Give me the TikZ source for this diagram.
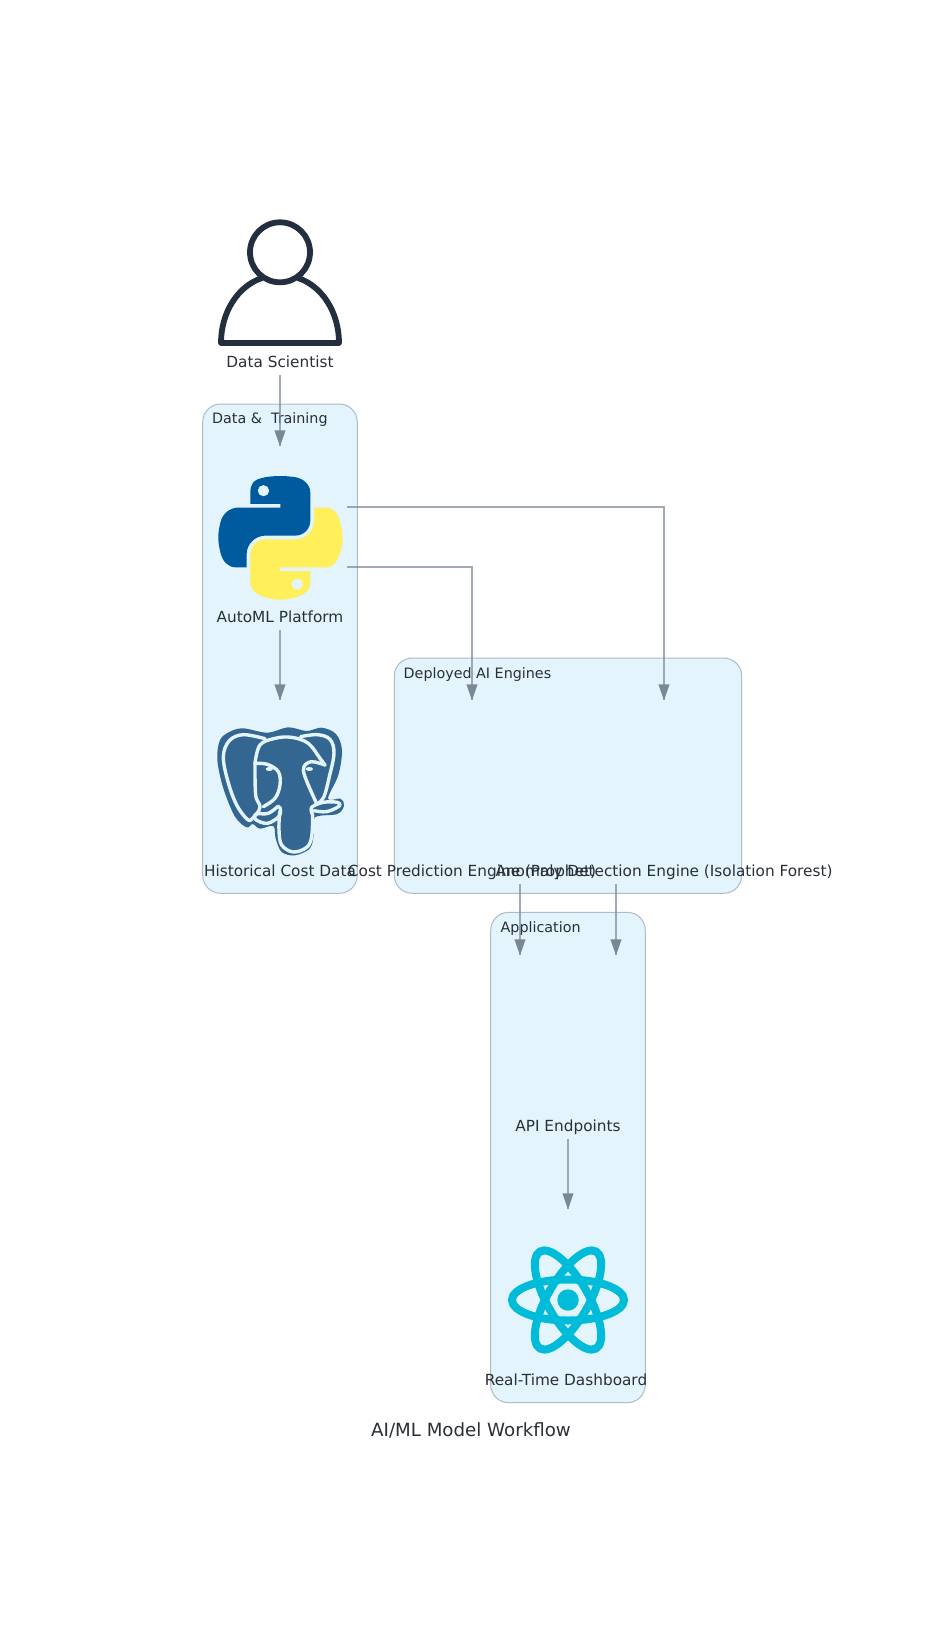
\documentclass[tikz,border=0pt]{standalone}
\usepackage{fontspec}
\setmainfont{DejaVu Sans}
\usepackage{tikz}
\usetikzlibrary{calc, positioning, svg.path}
\definecolor{groupfill}{HTML}{E3F4FD}
\definecolor{groupline}{HTML}{AEBBC8}
\definecolor{edgeline}{HTML}{7B8894}
\definecolor{inktext}{HTML}{2A2F36}
\definecolor{personink}{HTML}{232F3E}
\definecolor{pyblue}{HTML}{005A9E}
\definecolor{pyyellow}{HTML}{FFEF5A}
\definecolor{pgblue}{HTML}{336791}
\definecolor{reactcyan}{HTML}{00BCD8}
\tikzset{
  group/.style={draw=groupline, fill=groupfill, rounded corners=18pt, line width=1pt},
  grouptitle/.style={anchor=west, inner sep=0pt, text=inktext, font=\fontsize{14.3}{16}\selectfont},
  icon/.style={minimum size=133pt, inner sep=0pt},
  caption/.style={inner sep=0pt, text height=11pt, text depth=6.5pt, text=inktext, font=\fontsize{15.3}{16}\selectfont},
  edge/.style={draw=edgeline, line width=1.5pt, draw opacity=.7},
  tip/.style={fill=edgeline},
  pgline/.style={draw=groupfill, line width=3.4pt, line cap=round, line join=round}
}
% arrow with the head drawn apart, the line stays pale and the head solid
\newcommand{\tiphead}[1]{\fill[tip] (#1) -- ++(-5.6,-16) -- ++(11.2,0) -- cycle;}

\begin{document}
\begin{tikzpicture}[x=1pt, y=-1pt]
  \useasboundingbox (0,0) rectangle (944,1642);
  % groups
  \draw[group] (202.7,404) rectangle (357.3,893.3);
  \draw[group] (394.3,658) rectangle (741.7,893.3);
  \draw[group] (490.7,912.3) rectangle (645.3,1402.7);
  \node[grouptitle] (traintitle) at (212,420) {Data \& \ Training};
  \node[grouptitle] (enginetitle) at (403.5,675) {Deployed AI Engines};
  \node[grouptitle] (apptitle) at (500.5,928.5) {Application};

  % nodes, each icon box with its caption below
  \node[icon] (scientist) at (280,282) {};
  \node[caption, below=8pt of scientist] (scientistcap) {Data Scientist};
  \node[icon] (automl) at (280,537) {};
  \node[caption, below=8pt of automl] (automlcap) {AutoML Platform};
  \node[icon] (history) at (280,791) {};
  \node[caption, below=8pt of history] (historycap) {Historical Cost Data};
  \node[icon] (prophet) at (472,791) {};
  \node[caption, below=8pt of prophet] (prophetcap) {Cost Prediction Engine (Prophet)};
  \node[icon] (anomaly) at (664,791) {};
  \node[caption, below=8pt of anomaly] (anomalycap) {Anomaly Detection Engine (Isolation Forest)};
  \node[icon] (api) at (568,1046) {};
  \node[caption, below=8pt of api] (apicap) {API Endpoints};
  \node[icon] (board) at (568,1300) {};
  \node[caption, below=8pt of board, xshift=-2pt] (boardcap) {Real-Time Dashboard};
  \node[inner sep=0pt, text=inktext, font=\fontsize{18.2}{20}\selectfont] (plottitle) at (471,1430) {AI/ML Model Workflow};

  % where the arrows stop, a little above each icon box
  \coordinate (automlin) at ([yshift=24pt]automl.north);
  \coordinate (historyin) at ([yshift=24pt]history.north);
  \coordinate (prophetin) at ([yshift=24pt]prophet.north);
  \coordinate (anomalyin) at ([yshift=24pt]anomaly.north);
  \coordinate (apiinl) at ([xshift=-48pt, yshift=24pt]api.north);
  \coordinate (apiinr) at ([xshift=48pt, yshift=24pt]api.north);
  \coordinate (boardin) at ([yshift=24pt]board.north);

  % person
  \draw[personink, line width=5.8pt] (280,252.3) circle (30);
  \draw[personink, line width=5.8pt, line join=round]
    (262,278) .. controls (238,286) and (221,312) .. (221,343) -- (339,343)
    .. controls (339,312) and (322,286) .. (298,278);

  % python
  \begin{scope}[shift={(218.3,476)}, x=1pt, y=1pt, xscale=1.118, yscale=-1.1]
    \fill[pyblue] svg {M 54.918785,0 C 50.335132,0.02221727 45.957846,0.41313697 42.106285,1.0946693 30.760069,3.0991731 28.700036,7.2947714 28.700035,15.032169 v 10.21875 h 26.8125 v 3.40625 h -26.8125 -10.0625 c -7.792459,0 -14.6157588,4.683717 -16.7499998,13.59375 -2.46181998,10.212966 -2.57101508,16.586023 0,27.25 1.9059283,7.937852 6.4575432,13.593748 14.2499998,13.59375 h 9.21875 v -12.25 c 0,-8.849902 7.657144,-16.65625 16.75,-16.65625 h 26.78125 c 7.454951,0 13.406253,-6.138164 13.40625,-13.625 v -25.53125 c 0,-7.2663386 -6.12998,-12.7247771 -13.40625,-13.9374997 C 64.281548,0.32794397 59.502438,-0.02037903 54.918785,0 Z};
    \fill[groupfill] (40.42,13.34) circle (5.05);
    \fill[pyyellow] svg {M 85.637535,28.657169 v 11.90625 c 0,9.230755 -7.825895,16.999999 -16.75,17 h -26.78125 c -7.335833,0 -13.406249,6.278483 -13.40625,13.625 v 25.531247 c 0,7.266344 6.318588,11.540324 13.40625,13.625004 8.487331,2.49561 16.626237,2.94663 26.78125,0 6.750155,-1.95439 13.406253,-5.88761 13.40625,-13.625004 V 86.500919 h -26.78125 v -3.40625 h 26.78125 13.406254 c 7.792461,0 10.696251,-5.435408 13.406241,-13.59375 2.79933,-8.398886 2.68022,-16.475776 0,-27.25 -1.92578,-7.757441 -5.60387,-13.59375 -13.406241,-13.59375 Z};
    \fill[groupfill] (70.57,98.4) circle (5.05);
  \end{scope}

  % elephant, in crop units of three to the pixel
  \begin{scope}[shift={(210,720)}, x=.3333pt, y=-.3333pt]
    \fill[pgblue] plot[smooth cycle, tension=.55] coordinates {(100,25) (172,38) (235,22) (290,33) (335,23) (378,42) (396,90) (385,165) (354,236) (392,236) (402,257) (382,282) (315,292) (312,340) (300,385) (255,406) (215,396) (197,355) (190,318) (150,326) (128,312) (110,322) (75,290) (40,205) (22,120) (30,60) (60,35)};
    \draw[pgline] plot[smooth, tension=.6] coordinates {(165,56) (100,44) (58,62) (40,110) (54,185) (80,255) (112,298) (128,295) (150,262) (137,225) (135,130)};
    \draw[pgline] plot[smooth, tension=.6] coordinates {(135,130) (150,75) (195,55) (245,52) (295,70) (330,115) (345,135)};
    \draw[pgline] plot[smooth, tension=.6] coordinates {(272,50) (322,44) (360,58) (372,100) (358,170) (342,230) (322,252)};
    \draw[pgline] plot[smooth, tension=.6] coordinates {(135,130) (172,133) (205,155) (210,195) (195,235) (160,260)};
    \draw[pgline] plot[smooth, tension=.6] coordinates {(345,135) (305,125) (282,140) (285,170) (315,240) (322,252)};
    \draw[pgline] plot[smooth, tension=.6] coordinates {(205,258) (175,280) (138,282) (136,298) (172,310) (208,288) (210,262)};
    \draw[pgline] plot[smooth, tension=.6] coordinates {(209,275) (207,330) (215,375) (250,396) (290,382) (305,350) (308,285)};
    \draw[pgline] plot[smooth, tension=.6] coordinates {(308,285) (305,262) (340,247) (382,247) (388,258) (350,275) (312,272)};
    \fill[groupfill] (178,147) ellipse (11 and 6) (298,147) ellipse (11 and 6);
  \end{scope}

  % react
  \begin{scope}[shift={(board.center)}]
    \foreach \tilt in {0,60,120}
      \draw[reactcyan, line width=8pt, rotate=\tilt] (0,0) ellipse (56 and 20.5);
    \fill[reactcyan] (0,0) circle (10.7);
  \end{scope}

  % edges
  \draw[edge] (scientistcap.south) -- (automlin);
  \draw[edge] (automlcap.south) -- (historyin);
  \draw[edge] ([yshift=-30pt]automl.east) -| (prophetin);
  \draw[edge] ([yshift=30pt]automl.east) -| (anomalyin);
  \draw[edge] ([xshift=48pt]prophetcap.south) -- (apiinl);
  \draw[edge] ([xshift=-48pt]anomalycap.south) -- (apiinr);
  \draw[edge] (apicap.south) -- (boardin);
  \tiphead{automlin}
  \tiphead{historyin}
  \tiphead{prophetin}
  \tiphead{anomalyin}
  \tiphead{apiinl}
  \tiphead{apiinr}
  \tiphead{boardin}
\end{tikzpicture}
\end{document}
